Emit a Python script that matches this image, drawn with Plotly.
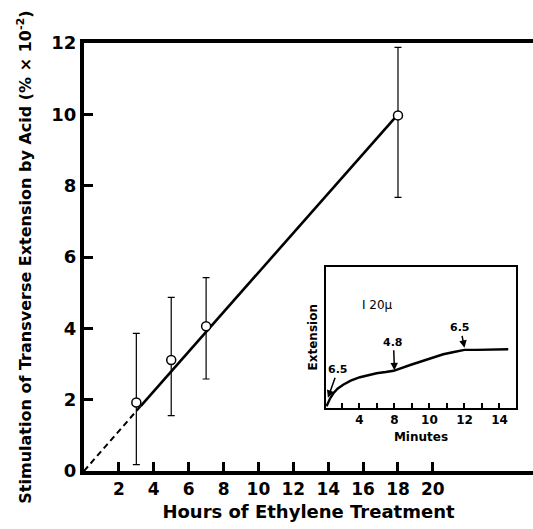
import plotly.graph_objects as go

# ---- main panel data ----
hours = [3, 5, 7, 18]
stimulation = [1.92, 3.11, 4.06, 9.97]
err_plus = [1.94, 1.76, 1.36, 1.91]
err_minus = [1.74, 1.56, 1.48, 2.30]

fit_solid_x = [3.25, 18.0]
fit_solid_y = [1.82, 10.0]
fit_dash_x = [0.0, 3.25]
fit_dash_y = [0.0, 1.82]

x_tickvals = [2, 4, 6, 8, 10, 12, 14, 16, 18, 20]
y_tickvals = [0, 2, 4, 6, 8, 10, 12]

# ---- inset data ----
minutes = [4.12, 4.3, 4.5, 4.75, 5.07, 5.5, 6.03, 6.5, 6.98, 7.5, 7.95, 8.9, 9.84, 10.79, 11.4, 12.0, 12.7, 13.6, 14.5]
extension = [0.01, 0.06, 0.10, 0.135, 0.163, 0.192, 0.216, 0.232, 0.244, 0.253, 0.262, 0.303, 0.343, 0.379, 0.395, 0.41, 0.41, 0.412, 0.415]
inset_tickvals = [6, 8, 10, 12, 14]
inset_ticktext = ["4", "8", "10", "12", "14"]
inset_minor_ticks = [5, 7, 9, 11, 13]

# arrows: label, tip minute, tip extension, text offset x, text offset y
arrow_labels = ["6.5", "4.8", "6.5"]
arrow_minutes = [4.2, 8.0, 12.0]
arrow_ext = [0.07, 0.265, 0.425]
arrow_ax = [10, -1, -4]
arrow_ay = [-28, -28, -20]

FONT = "DejaVu Sans"
INK = "#000000"

fig = go.Figure()

fig.add_trace(go.Scatter(x=fit_dash_x, y=fit_dash_y, mode="lines",
                         line=dict(color=INK, width=2, dash="6px,4px"),
                         showlegend=False))
fig.add_trace(go.Scatter(x=fit_solid_x, y=fit_solid_y, mode="lines",
                         line=dict(color=INK, width=2.6),
                         showlegend=False))
fig.add_trace(go.Scatter(x=hours, y=stimulation, mode="markers",
                         marker=dict(symbol="circle", size=9, color="white",
                                     line=dict(color=INK, width=1.5)),
                         error_y=dict(type="data", symmetric=False,
                                      array=err_plus, arrayminus=err_minus,
                                      color=INK, thickness=1.2, width=3.5),
                         showlegend=False))

fig.add_trace(go.Scatter(x=minutes, y=extension, mode="lines",
                         line=dict(color=INK, width=2.4),
                         xaxis="x2", yaxis="y2", showlegend=False))

annotations = []
for lab, mx, my, ax, ay in zip(arrow_labels, arrow_minutes, arrow_ext, arrow_ax, arrow_ay):
    annotations.append(dict(x=mx, y=my, xref="x2", yref="y2", text="<b>" + lab + "</b>",
                            showarrow=True, arrowhead=2, arrowsize=1, arrowwidth=1.5,
                            arrowcolor=INK, ax=ax, ay=ay, standoff=0, startstandoff=0,
                            font=dict(family=FONT, size=11, color=INK)))
annotations.append(dict(x=6.03, y=0.728, xref="x2", yref="y2", text="I 20μ",
                        showarrow=False, xanchor="left", yanchor="middle",
                        font=dict(family=FONT, size=12, color=INK)))

fig.update_layout(
    width=533, height=529,
    margin=dict(l=84, r=0, t=43, b=58),
    plot_bgcolor="white", paper_bgcolor="white",
    showlegend=False,
    font=dict(family=FONT, color=INK),
    xaxis=dict(range=[0, 25.74], showline=True, linewidth=4, linecolor=INK, mirror=True,
               ticks="inside", ticklen=9, tickwidth=2.5, tickcolor=INK,
               tickvals=x_tickvals, showgrid=False, zeroline=False,
               tickfont=dict(size=17, family=FONT, weight="bold"),
               title=dict(text="<b>Hours of Ethylene Treatment</b>",
                          font=dict(size=18, family=FONT), standoff=8)),
    yaxis=dict(range=[0, 12], showline=True, linewidth=4, linecolor=INK,
               ticks="inside", ticklen=9, tickwidth=2.5, tickcolor=INK,
               tickvals=y_tickvals, showgrid=False, zeroline=False,
               tickfont=dict(size=18, family=FONT, weight="bold"),
               title=dict(text="<b>Stimulation of Transverse Extension by Acid (% × 10<sup>-2</sup>)</b>",
                          font=dict(size=16, family=FONT), standoff=17)),
    xaxis2=dict(domain=[0.539, 0.962], anchor="y2", range=[4.09, 14.94],
                showline=True, linewidth=2, linecolor=INK, mirror=True,
                ticks="inside", ticklen=5, tickwidth=1.5, tickcolor=INK,
                tickvals=inset_tickvals, ticktext=inset_ticktext,
                minor=dict(tickvals=inset_minor_ticks, ticks="inside", ticklen=5,
                           tickwidth=1.5, tickcolor=INK, showgrid=False),
                showgrid=False, zeroline=False,
                tickfont=dict(size=12, family=FONT, weight="bold"),
                title=dict(text="<b>Minutes</b>", font=dict(size=12, family=FONT), standoff=7)),
    yaxis2=dict(domain=[0.148, 0.477], anchor="x2", range=[0, 1],
                showline=True, linewidth=2, linecolor=INK, mirror=True,
                ticks="", showticklabels=False, showgrid=False, zeroline=False,
                title=dict(text="<b>Extension</b>", font=dict(size=12, family=FONT), standoff=4)),
    annotations=annotations,
)

fig.write_html("out.html", config={"displayModeBar": False},
               post_script="document.body.style.margin='0';")
